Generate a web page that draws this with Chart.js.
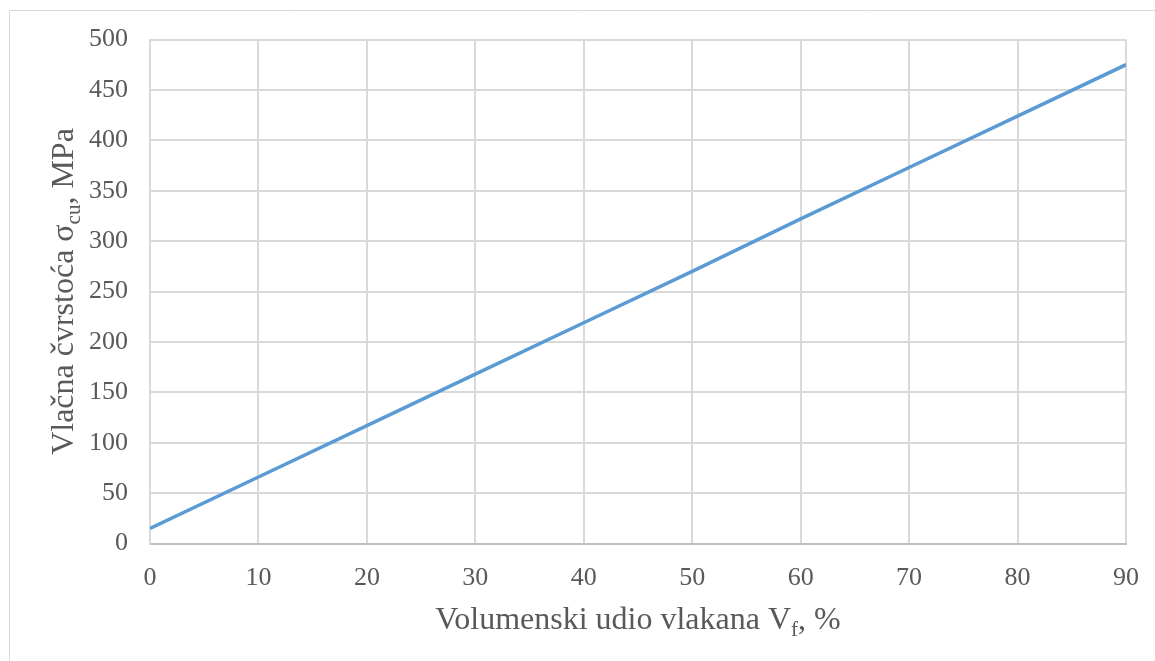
<!DOCTYPE html>
<html>
<head>
<meta charset="utf-8">
<script src="https://cdn.jsdelivr.net/npm/chart.js@4.4.0/dist/chart.umd.min.js"></script>
<style>
  html, body { margin: 0; padding: 0; background: #fff; }
  #wrap { position: relative; width: 1155px; height: 661px; }
</style>
</head>
<body>
<div id="wrap"><canvas id="chart" width="1155" height="661"></canvas></div>
<script>
// volume fraction of fibres (%) and tensile strength (MPa)
const fibreFraction = [0, 10, 20, 30, 40, 50, 60, 70, 80, 90];
const strength = [15, 66, 117, 168, 219, 270, 322, 373, 424, 475];
const xTicks = [0, 10, 20, 30, 40, 50, 60, 70, 80, 90];
const yTicks = [0, 50, 100, 150, 200, 250, 300, 350, 400, 450, 500];

const FONT = "'Liberation Serif', 'Times New Roman', serif";
const TEXT = '#595959';
const GRID = '#d9d9d9';

// draws text pieces with subscripts, centred on (x, y)
function drawRich(ctx, parts, x, y, size) {
    const subSize = Math.round(size * 0.65);
    let total = 0;
    parts.forEach(p => {
        ctx.font = (p.sub ? subSize : size) + 'px ' + FONT;
        p.w = ctx.measureText(p.t).width;
        total += p.w;
    });
    let cx = x - total / 2;
    parts.forEach(p => {
        ctx.font = (p.sub ? subSize : size) + 'px ' + FONT;
        ctx.fillText(p.t, cx, p.sub ? y + size * 0.22 : y);
        cx += p.w;
    });
}

const titles = {
    id: 'titles',
    beforeDraw(chart) {
        const ctx = chart.ctx;
        ctx.save();
        ctx.fillStyle = '#fff';
        ctx.fillRect(0, 0, chart.width, chart.height);
        ctx.strokeStyle = GRID;
        ctx.lineWidth = 1;
        ctx.beginPath();
        ctx.moveTo(9.5, chart.height);
        ctx.lineTo(9.5, 10.5);
        ctx.lineTo(chart.width, 10.5);
        ctx.stroke();
        ctx.restore();
    },
    afterDraw(chart) {
        const ctx = chart.ctx;
        const area = chart.chartArea;
        ctx.save();
        ctx.fillStyle = TEXT;
        ctx.textBaseline = 'alphabetic';
        ctx.textAlign = 'left';
        drawRich(ctx, [{t: 'Volumenski udio vlakana V'}, {t: 'f', sub: true}, {t: ', %'}],
            (area.left + area.right) / 2, 629, 32);
        ctx.translate(73, (area.top + area.bottom) / 2);
        ctx.rotate(-Math.PI / 2);
        drawRich(ctx, [{t: 'Vlačna čvrstoća σ'}, {t: 'cu', sub: true}, {t: ', MPa'}], 0, 0, 32);
        ctx.restore();
    }
};

new Chart(document.getElementById('chart'), {
    type: 'line',
    data: {
        datasets: [{
            data: fibreFraction.map((v, i) => ({ x: v, y: strength[i] })),
            borderColor: '#5b9bd5',
            borderWidth: 3.5,
            pointRadius: 0,
            tension: 0,
            fill: false
        }]
    },
    options: {
        responsive: false,
        animation: false,
        layout: { padding: { left: 0, top: 39.5, right: 29, bottom: 0 } },
        plugins: {
            legend: { display: false },
            tooltip: { enabled: false }
        },
        scales: {
            x: {
                type: 'linear',
                min: 0,
                max: 90,
                afterFit(scale) {
                    scale.height = 117.5;
                    scale.paddingLeft = 0;
                    scale.paddingRight = 0;
                },
                afterBuildTicks(scale) { scale.ticks = xTicks.map(v => ({ value: v })); },
                grid: { color: GRID, lineWidth: 2, drawTicks: false },
                border: { color: '#bfbfbf', width: 2 },
                ticks: { color: TEXT, padding: 19, font: { family: FONT, size: 26 } }
            },
            y: {
                min: 0,
                max: 500,
                afterFit(scale) {
                    scale.width = 150;
                    scale.paddingTop = 0;
                    scale.paddingBottom = 0;
                },
                afterBuildTicks(scale) { scale.ticks = yTicks.map(v => ({ value: v })); },
                grid: { color: GRID, lineWidth: 2, drawTicks: false },
                border: { color: GRID, width: 2 },
                ticks: { color: TEXT, padding: 22, font: { family: FONT, size: 26 } }
            }
        }
    },
    plugins: [titles]
});
</script>
</body>
</html>
